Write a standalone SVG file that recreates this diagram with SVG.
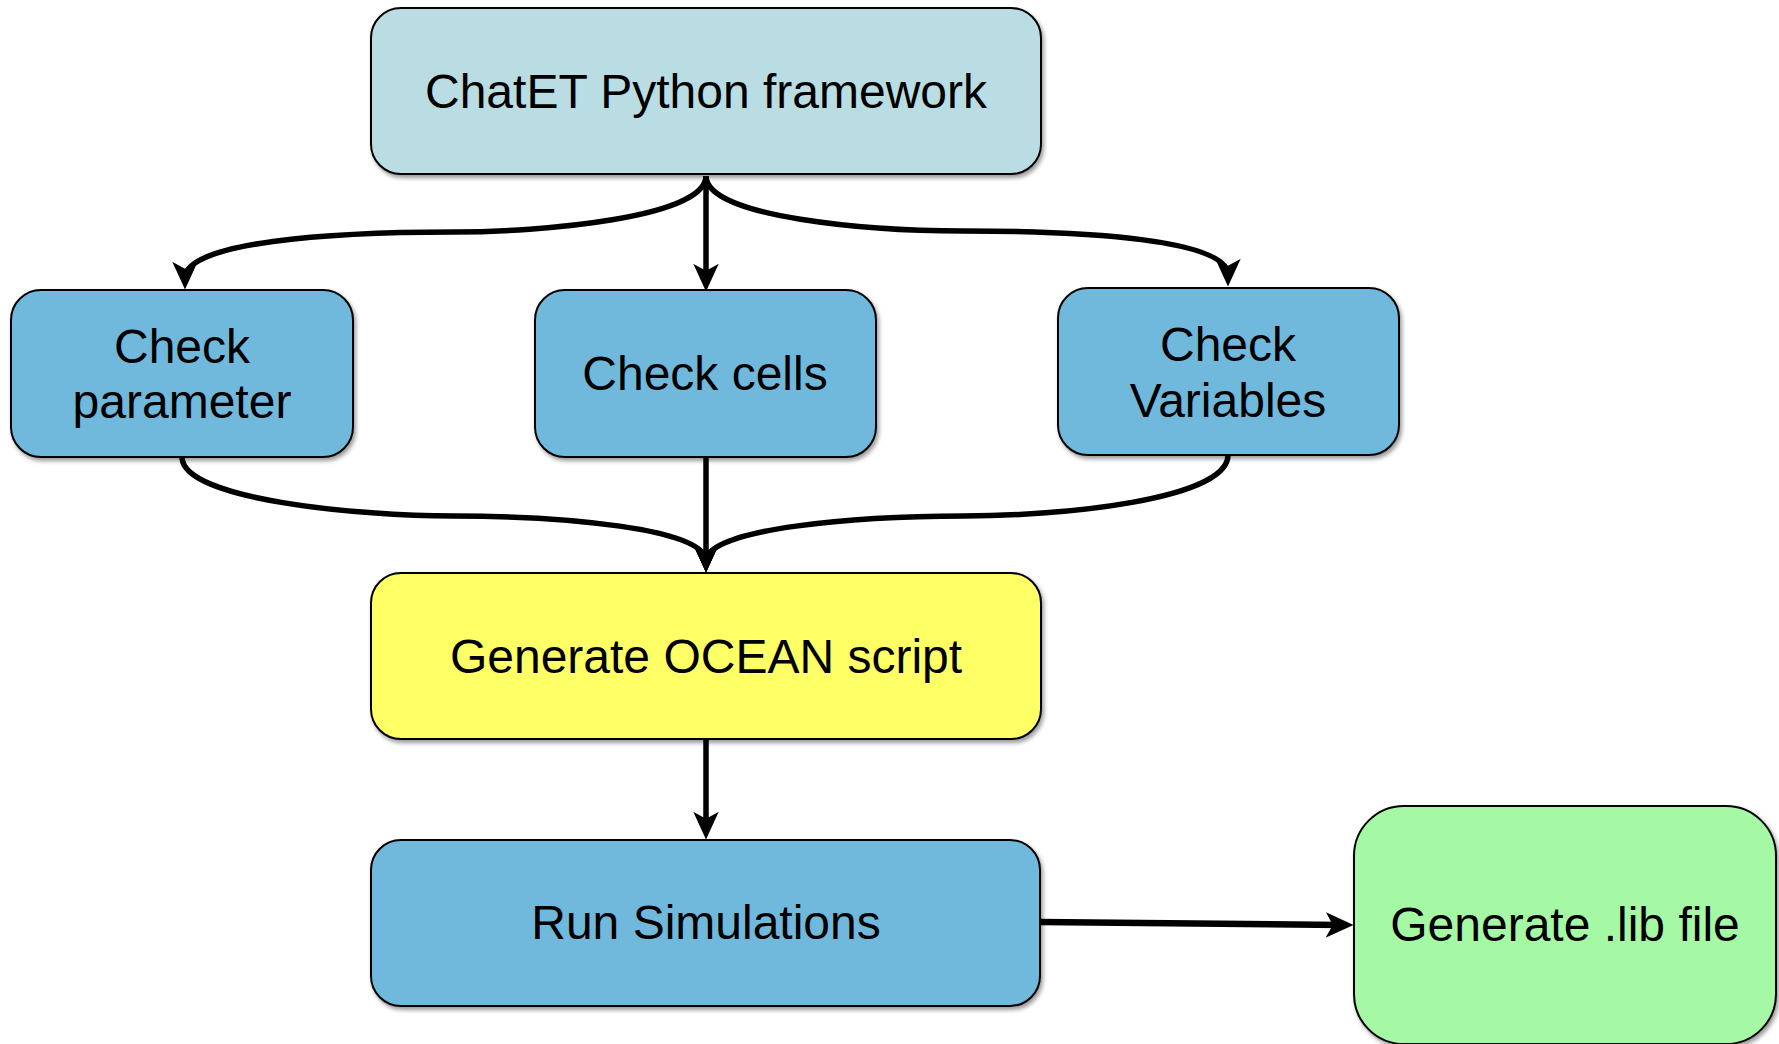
<svg xmlns="http://www.w3.org/2000/svg" width="1779" height="1044" viewBox="0 0 1779 1044">
<defs>
<style>
.box{stroke:#000;stroke-width:2;filter:url(#sh)}
.t{font-family:"Liberation Sans",Arial,sans-serif;font-size:48px;fill:#000;text-anchor:middle}
.c{fill:none;stroke:#000;stroke-width:5.5;marker-end:url(#ah)}
</style>
<filter id="sh" x="-10%" y="-10%" width="130%" height="130%">
<feDropShadow dx="2" dy="3" stdDeviation="2" flood-color="#000" flood-opacity="0.4"/>
</filter>
<marker id="ah" markerUnits="userSpaceOnUse" markerWidth="30" markerHeight="30" viewBox="0 -12 26 24" refX="14" refY="0" orient="auto">
<path d="M0,-11 L24,0 L0,11 L6,0 z" fill="#000"/>
</marker>
</defs>
<rect width="1779" height="1044" fill="#fff"/>
<g id="connectors">
<path class="c" d="M706,176 L706,280"/>
<path class="c" d="M706,176 C706,218 540,232 454,232 C330,232 185,242 185,278"/>
<path class="c" d="M706,176 C706,218 872,231 964,231 C1090,231 1228,240 1228,275"/>
<path class="c" d="M182,457 C182,500 360,516 454,516 C560,516 706,528 706,561"/>
<path class="c" d="M1228,455 C1228,500 1060,516 964,516 C860,516 706,528 706,561"/>
<path class="c" d="M706,457 L706,561"/>
<path class="c" d="M706,739 L706,828"/>
<path class="c" d="M1040,922 L1342,925" style="stroke-width:6.5"/>
</g>
<g id="n-chatet">
<rect class="box" x="371" y="8" width="670" height="166" rx="30" fill="#B9DDE2"/>
<text class="t" x="706" y="108">ChatET Python framework</text>
</g>
<g id="n-param">
<rect class="box" x="11" y="290" width="342" height="167" rx="30" fill="#6FB9DC"/>
<text class="t" x="182" y="363">Check</text>
<text class="t" x="182" y="418">parameter</text>
</g>
<g id="n-cells">
<rect class="box" x="535" y="290" width="341" height="167" rx="30" fill="#6FB9DC"/>
<text class="t" x="705" y="390">Check cells</text>
</g>
<g id="n-vars">
<rect class="box" x="1058" y="288" width="341" height="167" rx="30" fill="#6FB9DC"/>
<text class="t" x="1228" y="361">Check</text>
<text class="t" x="1228" y="417">Variables</text>
</g>
<g id="n-ocean">
<rect class="box" x="371" y="573" width="670" height="166" rx="30" fill="#FFFF66"/>
<text class="t" x="706" y="673">Generate OCEAN script</text>
</g>
<g id="n-sim">
<rect class="box" x="371" y="840" width="669" height="166" rx="30" fill="#6FB9DC"/>
<text class="t" x="706" y="939">Run Simulations</text>
</g>
<g id="n-lib">
<rect class="box" x="1354" y="806" width="422" height="238" rx="50" fill="#A5F9A5"/>
<text class="t" x="1565" y="941">Generate .lib file</text>
</g>
</svg>
